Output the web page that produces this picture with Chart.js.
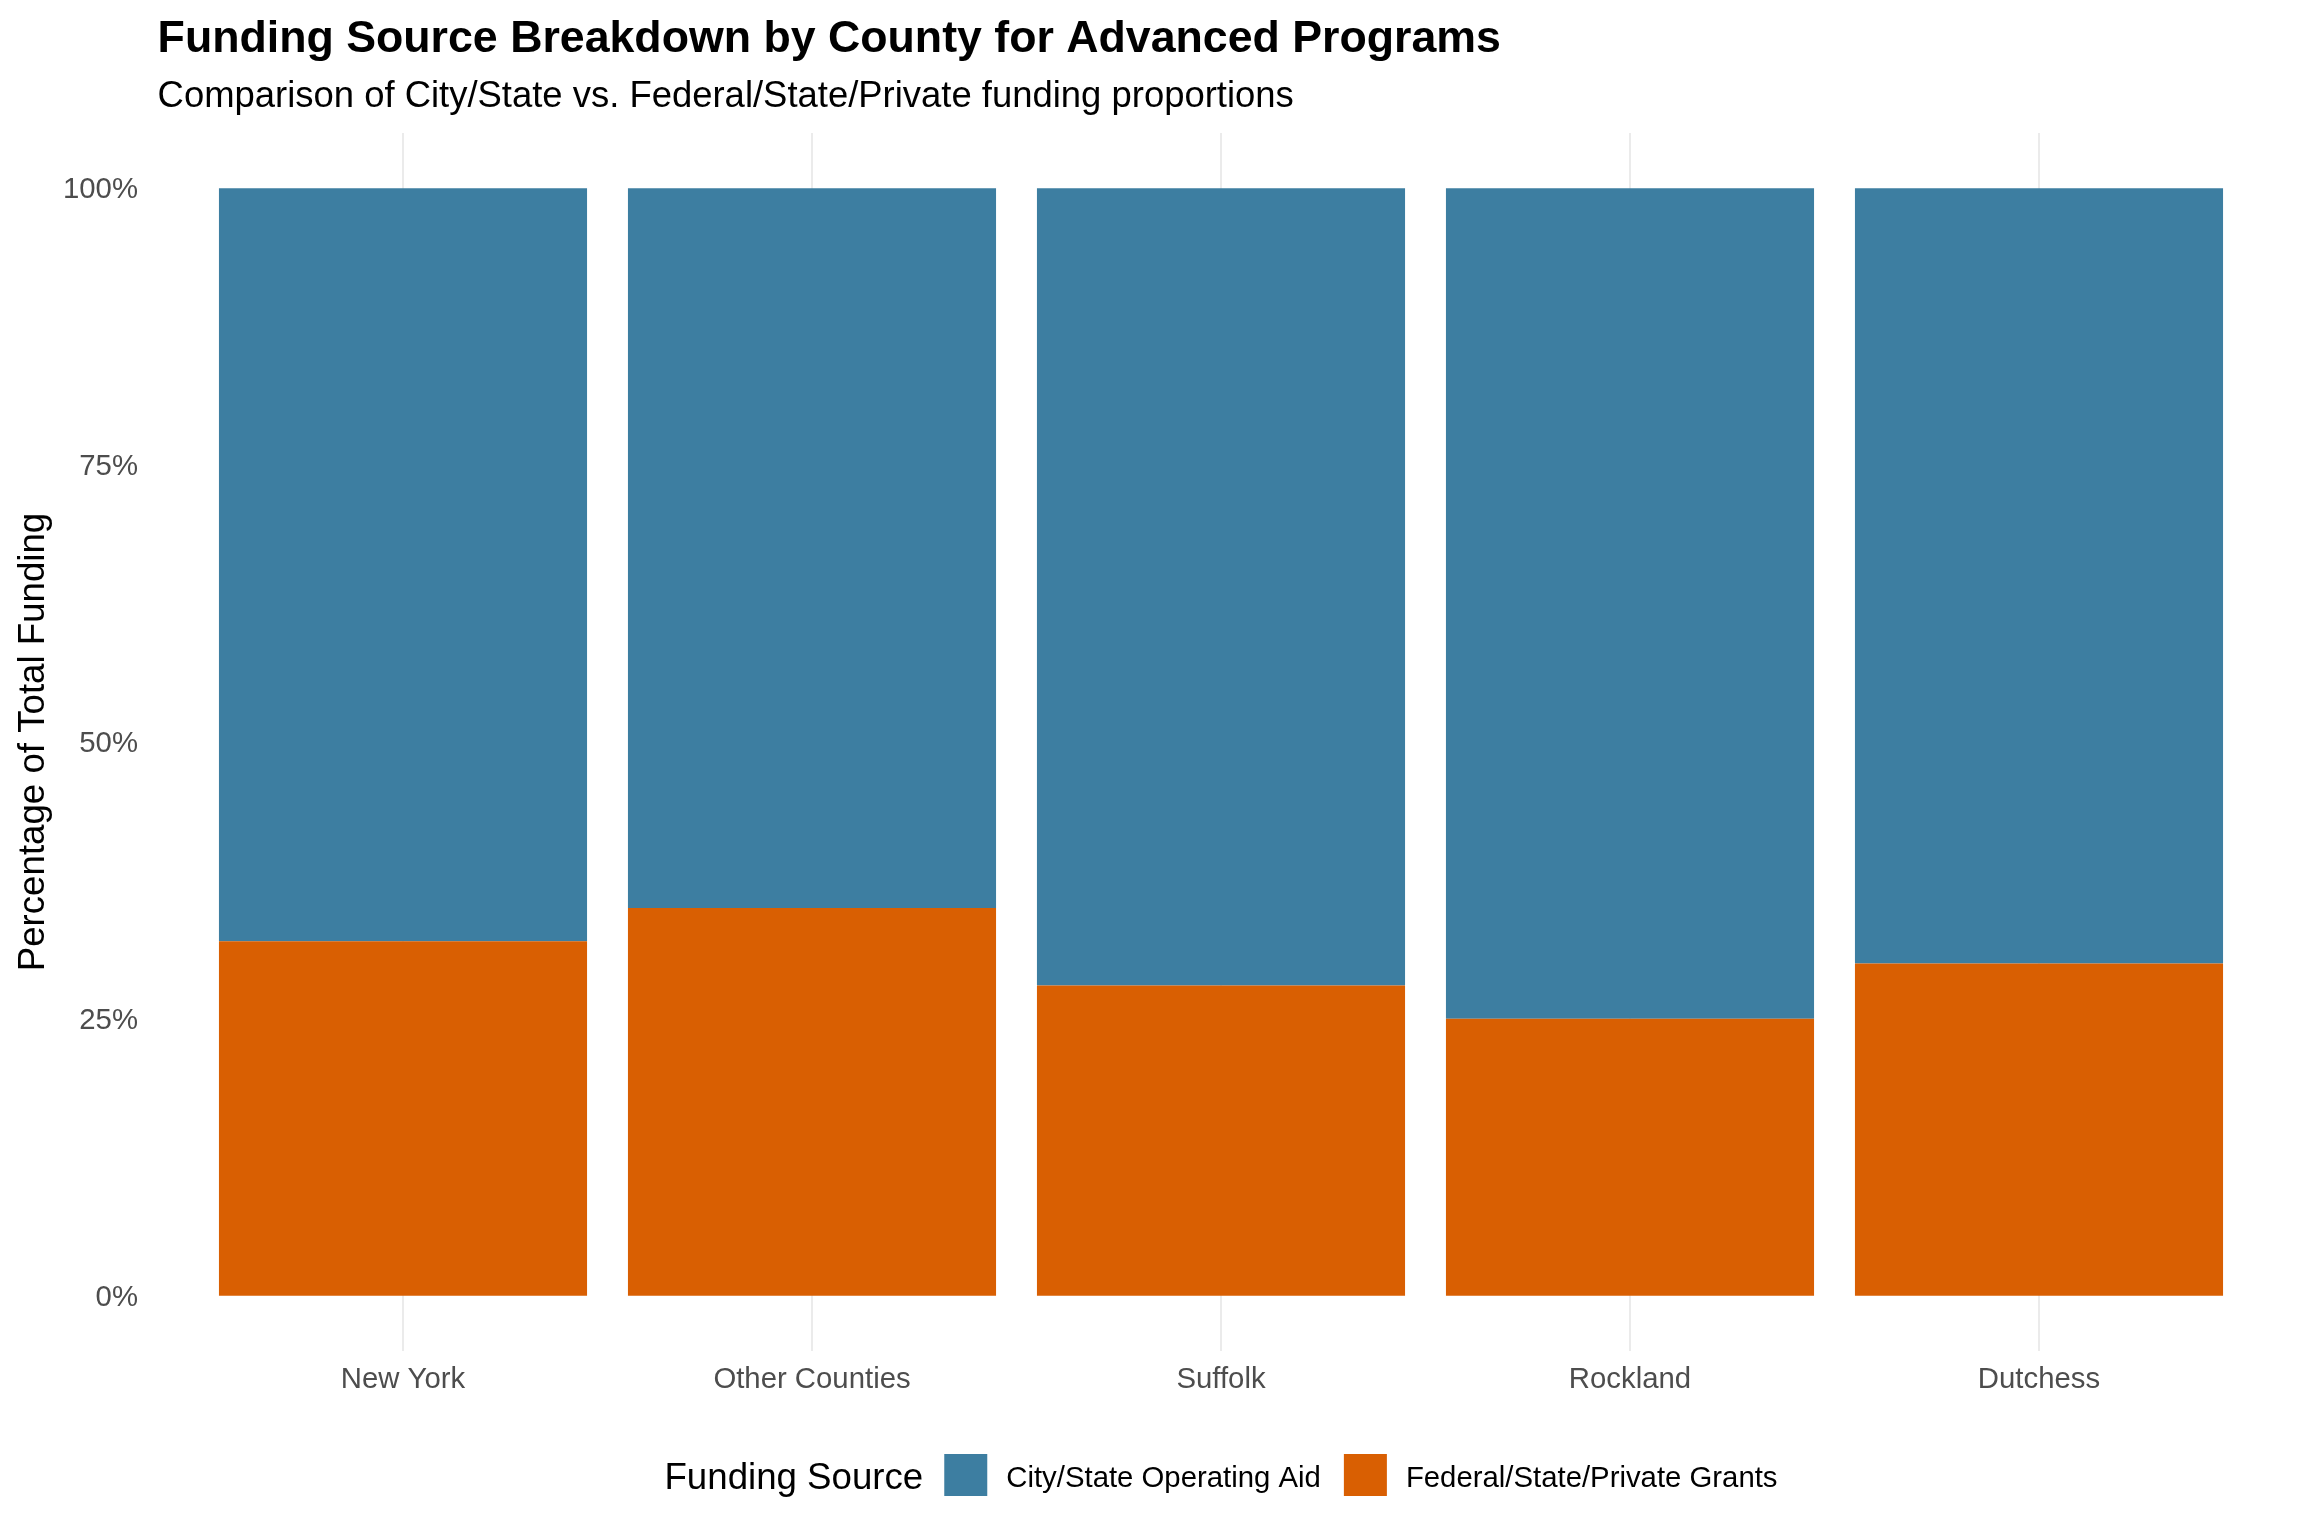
<!DOCTYPE html>
<html><head><meta charset="utf-8">
<script src="https://cdn.jsdelivr.net/npm/chart.js@4.4.1/dist/chart.umd.min.js"></script>
<style>html,body{margin:0;padding:0;background:#fff;} #wrap{width:2304px;height:1536px;position:relative;}</style>
</head><body><div id="wrap"><canvas id="c"></canvas></div>
<script>
const categories = ["New York", "Other Counties", "Suffolk", "Rockland", "Dutchess"];
const cityStateAid = [68, 65, 72, 75, 70];
const federalGrants = [32, 35, 28, 25, 30];
const yTickValues = [0, 25, 50, 75, 100];
const seriesNames = ["City/State Operating Aid", "Federal/State/Private Grants"];
const seriesColors = ["#3D7EA1", "#D95F02"];
const titleText = "Funding Source Breakdown by County for Advanced Programs";
const subtitleText = "Comparison of City/State vs. Federal/State/Private funding proportions";
const legendTitle = "Funding Source";
const yAxisTitle = "Percentage of Total Funding";

const FONT = '"Liberation Sans", Arial, Helvetica, sans-serif';
const BASE = 36.67;

const deco = {
  id: 'deco',
  afterDraw(chart) {
    const ctx = chart.ctx;
    const xs = chart.scales.x;
    const step = xs.getPixelForValue(1) - xs.getPixelForValue(0);
    const panelLeft = xs.getPixelForValue(0) - 0.6 * step;
    const ca = chart.chartArea;
    ctx.save();
    ctx.textAlign = 'left';
    ctx.textBaseline = 'alphabetic';
    ctx.fillStyle = '#000';
    ctx.font = 'bold 44.7px ' + FONT;
    ctx.fillText(titleText, panelLeft, 52);
    ctx.font = '36.45px ' + FONT;
    ctx.fillText(subtitleText, panelLeft, 107);

    // legend
    const titleFont = BASE + 'px ' + FONT;
    const labFont = (BASE * 0.8) + 'px ' + FONT;
    const sw = 43, sh = 42, gapTS = 21, gapSL = 19, gapLS = 23;
    ctx.font = titleFont;
    const tW = ctx.measureText(legendTitle).width;
    ctx.font = labFont;
    const order = [1, 0];
    const labW = order.map(i => ctx.measureText(chart.data.datasets[i].label).width);
    let total = tW + gapTS;
    labW.forEach((w, k) => { total += sw + gapSL + w + (k < labW.length - 1 ? gapLS : 0); });
    const cx = (ca.left + ca.right) / 2;
    let x = cx - total / 2;
    const cy = 1475;
    ctx.font = titleFont;
    ctx.fillStyle = '#000';
    ctx.fillText(legendTitle, x, 1489);
    x += tW + gapTS;
    order.forEach((i, k) => {
      const ds = chart.data.datasets[i];
      ctx.fillStyle = ds.backgroundColor;
      ctx.fillRect(x, cy - sh / 2, sw, sh);
      x += sw + gapSL;
      ctx.fillStyle = '#000';
      ctx.font = labFont;
      ctx.fillText(ds.label, x, 1487);
      x += labW[k] + gapLS;
    });
    ctx.restore();
  }
};

new Chart(document.getElementById('c'), {
  type: 'bar',
  data: {
    labels: categories,
    datasets: [
      { label: seriesNames[1], data: federalGrants, backgroundColor: seriesColors[1], borderWidth: 0, barPercentage: 0.9, categoryPercentage: 1.0 },
      { label: seriesNames[0], data: cityStateAid, backgroundColor: seriesColors[0], borderWidth: 0, barPercentage: 0.9, categoryPercentage: 1.0 }
    ]
  },
  options: {
    responsive: true,
    maintainAspectRatio: false,
    animation: false,
    layout: { padding: { top: 133, right: 60.5, bottom: 0, left: 0 } },
    plugins: { legend: { display: false }, title: { display: false }, tooltip: { enabled: false } },
    scales: {
      x: {
        stacked: true,
        offset: true,
        grid: { display: true, offset: false, color: '#EBEBEB', lineWidth: 2, drawTicks: false },
        border: { display: false },
        ticks: { color: '#4D4D4D', font: { family: FONT, size: BASE * 0.8 }, padding: 11, maxRotation: 0, autoSkip: false },
        afterFit(s) { s.height = 185; }
      },
      y: {
        stacked: true,
        min: -5,
        max: 105,
        grid: { display: false, drawTicks: false },
        border: { display: false },
        afterBuildTicks(s) { s.ticks = yTickValues.map(v => ({ value: v })); },
        ticks: { color: '#4D4D4D', font: { family: FONT, size: BASE * 0.8 }, padding: 60.5, labelOffset: 2, callback: v => v + '%' },
        title: { display: true, text: yAxisTitle, color: '#000', font: { family: FONT, size: BASE }, padding: { top: 12, bottom: 0 } },
        afterFit(s) { s.width = 198.5; }
      }
    }
  },
  plugins: [deco]
});
</script></body></html>
